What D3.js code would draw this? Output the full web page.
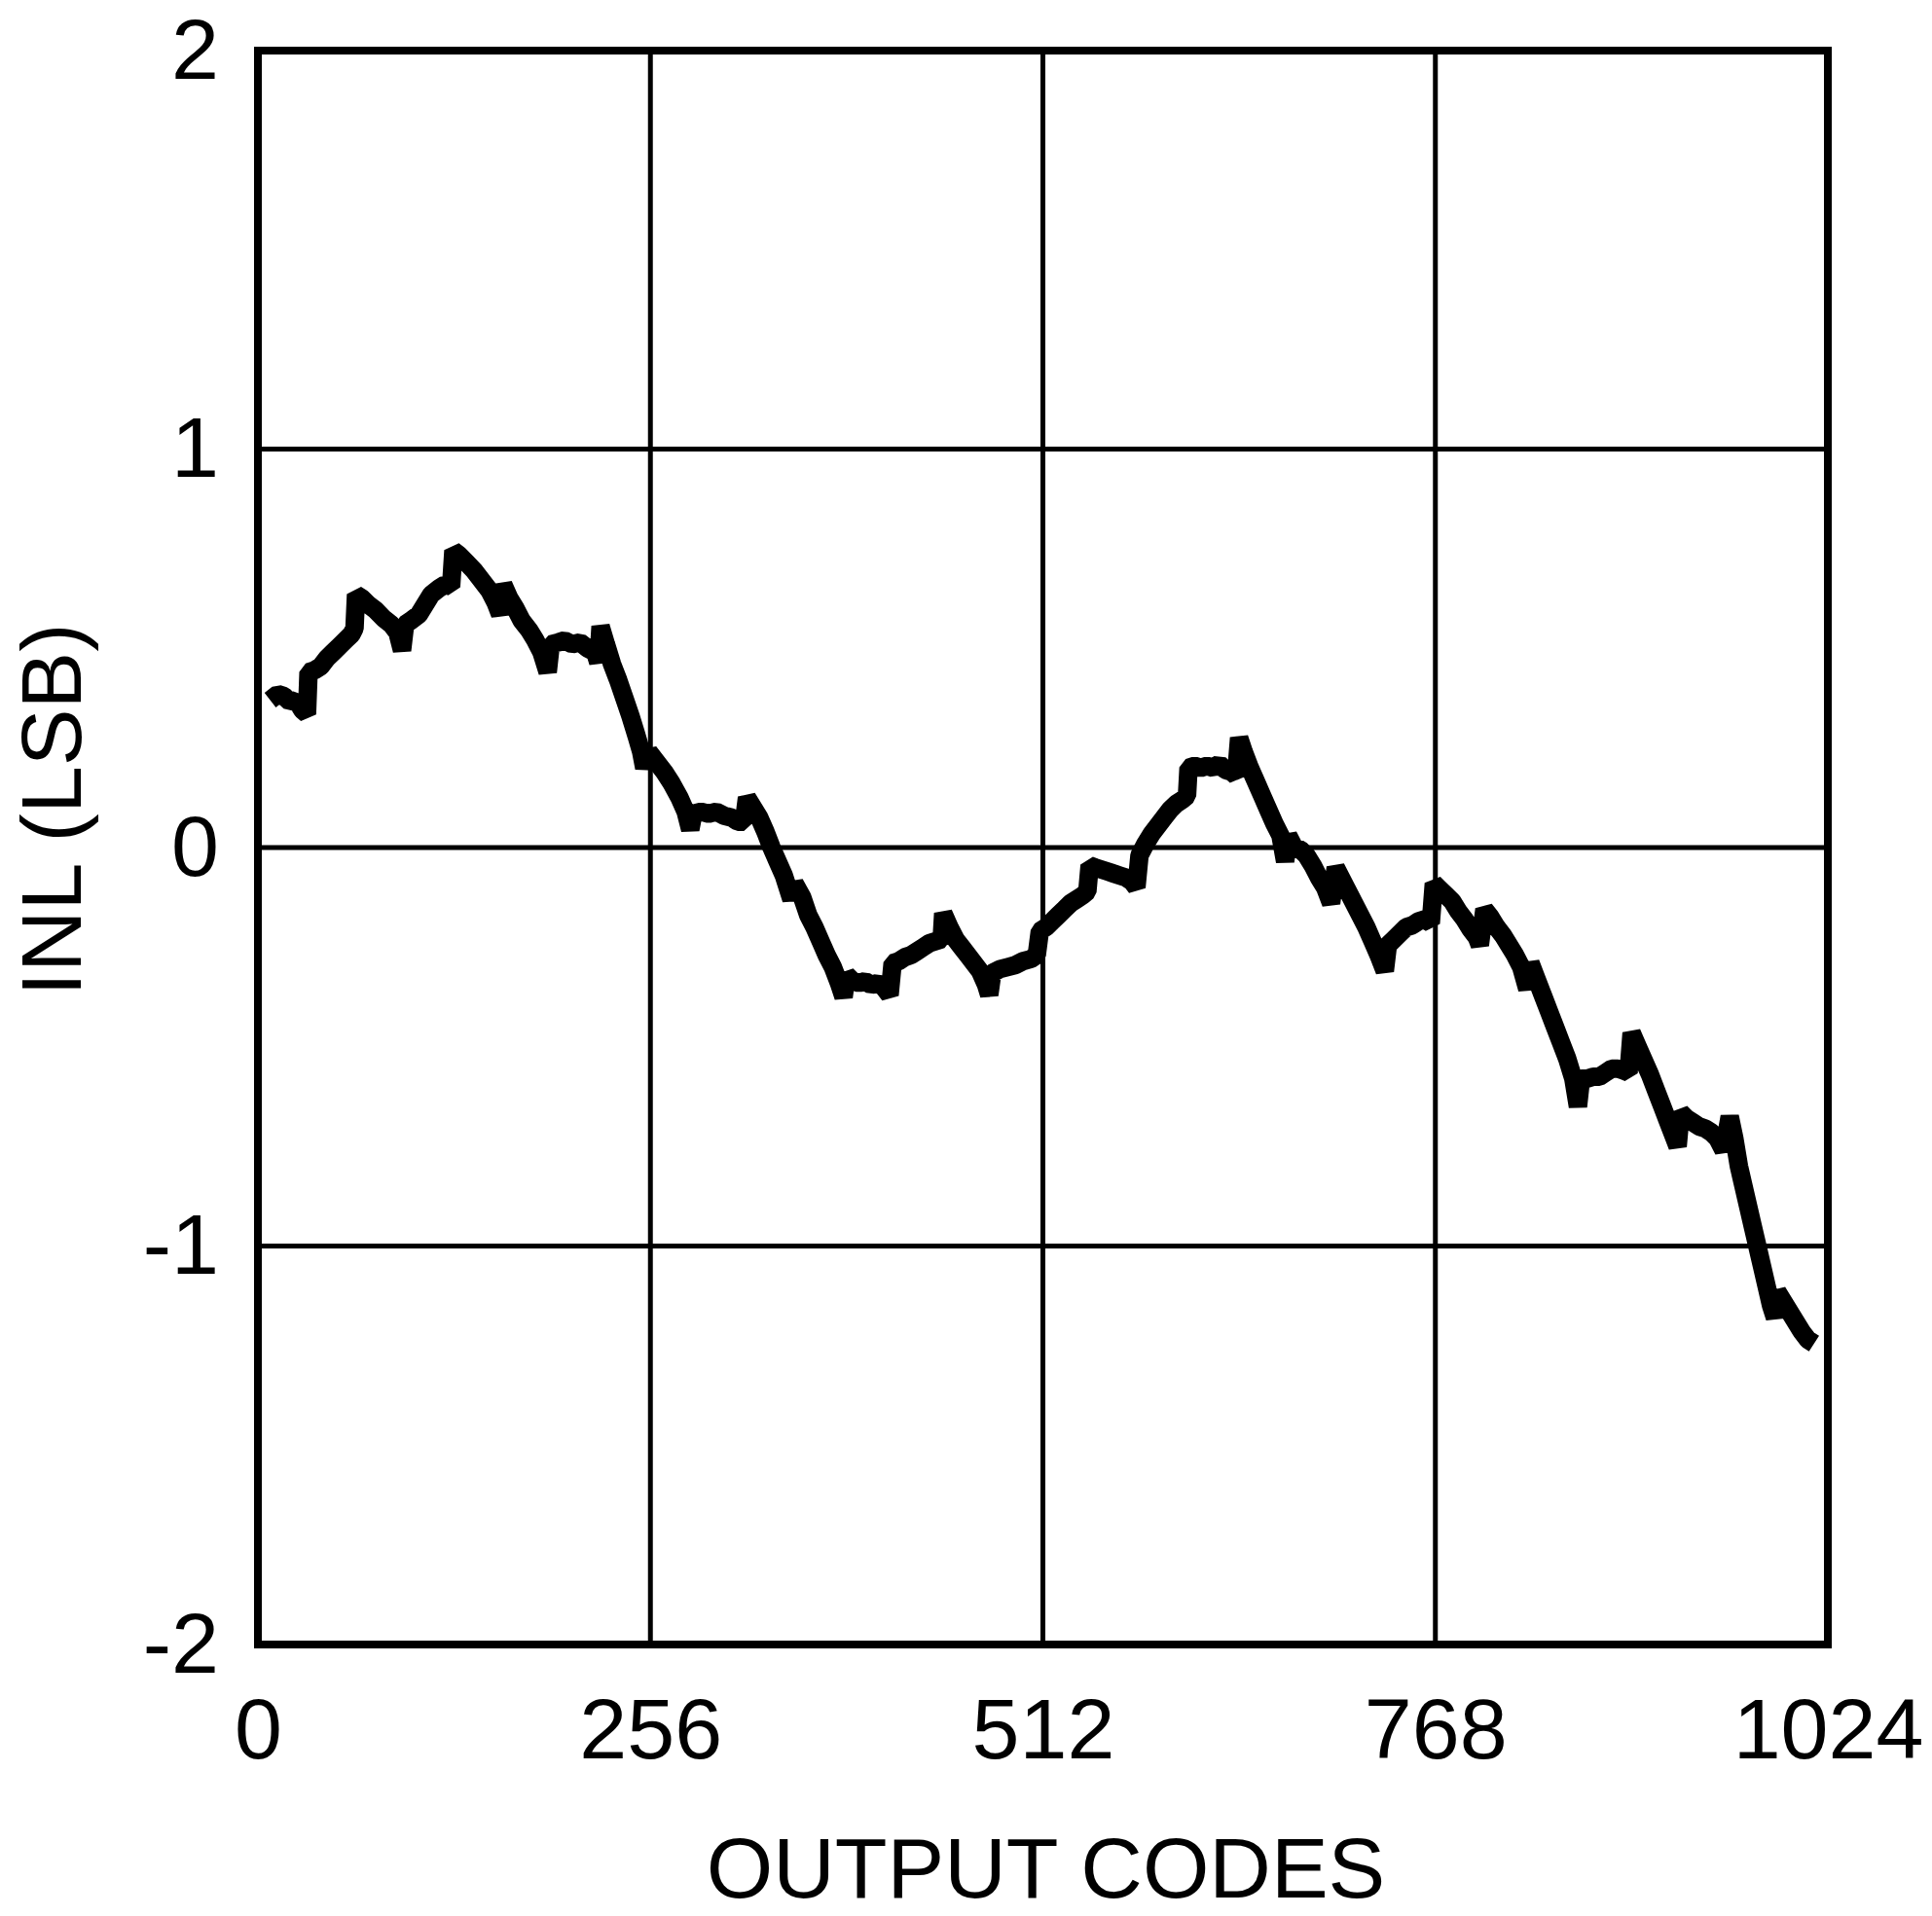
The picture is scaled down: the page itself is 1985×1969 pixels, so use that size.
<!DOCTYPE html>
<html>
<head>
<meta charset="utf-8">
<script src="https://cdn.jsdelivr.net/npm/d3@7"></script>
<style>
  html, body { margin: 0; padding: 0; background: #fff; }
  svg text { font-family: "Liberation Sans", Arial, sans-serif; fill: #000; }
</style>
</head>
<body>
<script>
const xTicks = [0, 256, 512, 768, 1024];
const yTicks = [-2, -1, 0, 1, 2];
const xTitle = "OUTPUT CODES";
const yTitle = "INL (LSB)";

// left to right
const codes = [
  8, 13, 17, 21, 25, 29, 32, 33, 37, 41, 45, 49, 53, 57, 61, 63,
  64, 68, 72, 77, 82, 87, 91, 94, 96, 100, 105, 109, 113, 118, 122, 126,
  127.5, 131, 136, 141, 146, 151, 155, 158, 160, 164, 168, 172, 177, 181, 185, 189,
  191, 196, 200, 205, 210, 215, 220, 222, 223.5, 227, 231, 235, 239, 243, 247, 250,
  252, 255, 260, 265, 270, 275, 279, 282, 284, 289, 294, 299, 304, 309, 313, 317,
  319, 323, 327, 331, 335, 339, 343, 348, 350, 355, 359, 363, 367, 371, 375, 379,
  382, 384, 388, 392, 396, 400, 404, 408, 412, 414, 418, 422, 426, 430, 434, 438,
  442, 446, 447, 451, 455, 459, 463, 467, 471, 475, 477, 479, 484, 489, 494, 499,
  504, 508, 510, 514, 518, 522, 526, 530, 534, 538, 541, 542.5, 546, 550, 554, 558,
  562, 566, 570, 573, 575, 579, 583, 587, 591, 595, 599, 603, 606, 607, 611, 615,
  619, 623, 627, 631, 635, 638, 640, 643, 647, 651, 655, 659, 663, 667, 670, 672,
  676, 680, 684, 688, 692, 696, 700, 703, 707, 711, 715, 719, 723, 727, 731, 735,
  737, 741, 745, 749, 753, 757, 761, 765, 767, 771, 775, 779, 783, 787, 791, 795,
  797, 800, 804, 808, 812, 816, 820, 824, 828, 830, 834, 838, 842, 846, 850, 854,
  858, 861, 863, 867, 871, 875, 879, 883, 887, 891, 894, 896, 900, 904, 908, 912,
  916, 920, 924, 926, 928, 932, 936, 940, 944, 948, 952, 956, 960, 963, 966, 969,
  972, 975, 978, 981, 984, 987, 989.5, 991, 995, 999, 1003, 1007, 1011, 1015
];
const inl = [
  0.37, 0.385, 0.38, 0.365, 0.37, 0.345, 0.335, 0.44, 0.445, 0.455, 0.475, 0.49, 0.505, 0.52, 0.535, 0.55,
  0.635, 0.625, 0.61, 0.595, 0.575, 0.56, 0.54, 0.495, 0.56, 0.57, 0.585, 0.61, 0.635, 0.65, 0.66, 0.655,
  0.745, 0.735, 0.715, 0.695, 0.67, 0.645, 0.615, 0.585, 0.66, 0.625, 0.6, 0.57, 0.545, 0.52, 0.49, 0.44,
  0.51, 0.515, 0.52, 0.51, 0.515, 0.5, 0.49, 0.465, 0.555, 0.51, 0.46, 0.42, 0.375, 0.33, 0.28, 0.24,
  0.2, 0.24, 0.215, 0.19, 0.16, 0.125, 0.09, 0.045, 0.085, 0.09, 0.085, 0.09, 0.08, 0.075, 0.065, 0.065,
  0.125, 0.1, 0.075, 0.04, 0.0, -0.035, -0.07, -0.13, -0.09, -0.125, -0.17, -0.2, -0.235, -0.27, -0.3, -0.34,
  -0.375, -0.32, -0.335, -0.34, -0.335, -0.345, -0.34, -0.35, -0.37, -0.29, -0.285, -0.275, -0.27, -0.26, -0.25, -0.24,
  -0.235, -0.23, -0.165, -0.2, -0.23, -0.25, -0.27, -0.29, -0.31, -0.345, -0.37, -0.315, -0.305, -0.3, -0.295, -0.285,
  -0.28, -0.27, -0.21, -0.2, -0.185, -0.17, -0.155, -0.14, -0.13, -0.12, -0.11, -0.045, -0.05, -0.055, -0.06, -0.065,
  -0.07, -0.075, -0.085, -0.1, -0.02, 0.01, 0.035, 0.055, 0.075, 0.095, 0.11, 0.12, 0.13, 0.2, 0.205, 0.2,
  0.205, 0.2, 0.21, 0.195, 0.19, 0.18, 0.275, 0.24, 0.2, 0.165, 0.13, 0.095, 0.06, 0.03, -0.035, 0.03,
  0.0, -0.005, -0.02, -0.045, -0.075, -0.1, -0.14, -0.05, -0.08, -0.11, -0.14, -0.17, -0.2, -0.235, -0.27, -0.31,
  -0.245, -0.23, -0.215, -0.2, -0.195, -0.185, -0.18, -0.19, -0.09, -0.105, -0.12, -0.135, -0.16, -0.18, -0.205, -0.225,
  -0.245, -0.155, -0.175, -0.2, -0.22, -0.245, -0.27, -0.3, -0.355, -0.29, -0.33, -0.37, -0.41, -0.45, -0.49, -0.53,
  -0.58, -0.65, -0.58, -0.58, -0.575, -0.575, -0.565, -0.555, -0.555, -0.56, -0.565, -0.465, -0.5, -0.535, -0.57, -0.61,
  -0.65, -0.69, -0.73, -0.75, -0.665, -0.68, -0.69, -0.7, -0.705, -0.715, -0.73, -0.76, -0.675, -0.73, -0.8, -0.85,
  -0.9, -0.95, -1.0, -1.05, -1.1, -1.15, -1.18, -1.115, -1.14, -1.165, -1.19, -1.215, -1.235, -1.245
];

const W = 1985, H = 1969;
const margin = {left: 265, right: 107, top: 52, bottom: 279};
const FONT = 88;

const svg = d3.select("body").append("svg")
  .attr("width", W)
  .attr("height", H);

const x = d3.scaleLinear().domain([0, 1024]).range([margin.left, W - margin.right]);
const y = d3.scaleLinear().domain([-2, 2]).range([H - margin.bottom, margin.top]);

//grid
svg.append("g").attr("class", "grid-x")
  .selectAll("line").data(xTicks.slice(1, -1)).join("line")
  .attr("x1", d => x(d)).attr("x2", d => x(d))
  .attr("y1", y(2)).attr("y2", y(-2))
  .attr("stroke", "#000").attr("stroke-width", 5);

svg.append("g").attr("class", "grid-y")
  .selectAll("line").data(yTicks.slice(1, -1)).join("line")
  .attr("x1", x(0)).attr("x2", x(1024))
  .attr("y1", d => y(d)).attr("y2", d => y(d))
  .attr("stroke", "#000").attr("stroke-width", 5);

//frame
svg.append("rect")
  .attr("x", x(0)).attr("y", y(2))
  .attr("width", x(1024) - x(0)).attr("height", y(-2) - y(2))
  .attr("fill", "none").attr("stroke", "#000").attr("stroke-width", 8);

//axes (labels only)
const gx = svg.append("g")
  .attr("transform", `translate(0, ${y(-2)})`)
  .call(d3.axisBottom(x).tickValues(xTicks).tickSize(0).tickPadding(55).tickFormat(d3.format("d")));
const gy = svg.append("g")
  .attr("transform", `translate(${x(0)}, 0)`)
  .call(d3.axisLeft(y).tickValues(yTicks).tickSize(0).tickPadding(40).tickFormat(d3.format("d")));

[gx, gy].forEach(g => {
  g.select(".domain").remove();
  g.selectAll("text")
    .style("font-size", FONT + "px")
    .style("font-family", '"Liberation Sans", Arial, sans-serif')
    .attr("fill", "#000");
});
gy.selectAll("text").text(d => d < 0 ? "-" + Math.abs(d) : d);

//trace
const pts = codes.map((c, i) => [c, inl[i]]);
svg.append("path")
  .datum(pts)
  .attr("d", d3.line().x(d => x(d[0])).y(d => y(d[1])))
  .attr("fill", "none")
  .attr("stroke", "#000")
  .attr("stroke-width", 19)
  .attr("stroke-linejoin", "bevel")
  .attr("stroke-linecap", "butt");

//titles
svg.append("text")
  .attr("x", (x(0) + x(1024)) / 2 + 3)
  .attr("y", 1950)
  .attr("text-anchor", "middle")
  .style("font-size", FONT + "px")
  .text(xTitle);

svg.append("text")
  .attr("transform", "translate(83, 832) rotate(-90)")
  .attr("text-anchor", "middle")
  .style("font-size", FONT + "px")
  .text(yTitle);
</script>
</body>
</html>
